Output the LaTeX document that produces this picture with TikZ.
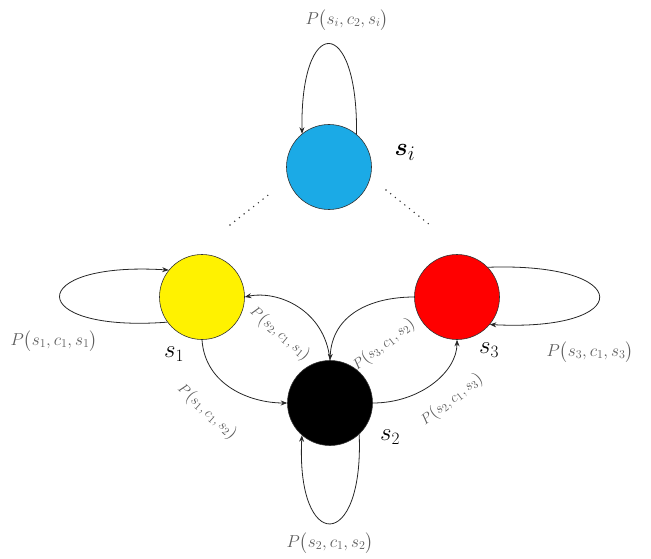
\documentclass[tikz,border=0pt]{standalone}
\usepackage{amsmath}
\usepackage{bm}
\usetikzlibrary{arrows.meta}
\definecolor{cblue}{RGB}{27,170,230}
\definecolor{lblgray}{RGB}{90,90,90}
\tikzset{
  state/.style={circle, draw=black!80, line width=0.6pt, minimum size=85pt, inner sep=0pt},
  conn/.style={draw=black!85, line width=0.8pt, -{Stealth[length=6.5pt,width=5pt]}},
  plbl/.style={text=lblgray, font=\fontsize{17}{20}\selectfont, inner sep=0pt},
  rlbl/.style={text=lblgray, font=\fontsize{15}{18}\selectfont, inner sep=0pt},
  slbl/.style={font=\fontsize{24}{28}\selectfont, inner sep=0pt},
  dotline/.style={line width=1.6pt, line cap=round, dash pattern=on 0pt off 6pt, black!80}
}
\begin{document}
\begin{tikzpicture}[x=1pt,y=-1pt]
\useasboundingbox (0,0) rectangle (651,559);
% states
\node[state, fill=cblue] (si) at (329,167) {};
\node[state, fill=yellow] (s1) at (202,297) {};
\node[state, fill=red] (s3) at (457,297) {};
\node[state, fill=black] (s2) at (330,403) {};
% loops
\draw[conn] (si.50) .. controls (358,14) and (300,14) .. (si.129);
\draw[conn] (s1.216) .. controls (24,333) and (24,261) .. (s1.141);
\draw[conn] (s3.44) .. controls (636,262) and (636,332) .. (s3.-40);
\draw[conn] (s2.-47) .. controls (364,553) and (296,553) .. (s2.229);
% transitions
\draw[conn] (s1.-90) .. controls (205,385) and (250,403) .. (s2.180);
\draw[conn] (s2.0) .. controls (420,403) and (457,372) .. (s3.-90);
\draw[conn] (s2.90) .. controls (325,310) and (278,290) .. (s1.0);
\draw[conn] (s3.180) .. controls (370,297) and (332,315) .. (s2.90);
% dots
\coordinate (dl1) at (230,225);
\coordinate (dl2) at (272,192);
\coordinate (dr1) at (386,190);
\coordinate (dr2) at (430,225);
\draw[dotline] (dl1) -- (dl2);
\draw[dotline] (dr1) -- (dr2);
% state labels
\node[font=\fontsize{32}{36}\selectfont, inner sep=0pt] (lsi) at (405,152) {$\bm{s}_{i}$};
\node[slbl] (ls1) at (174,354) {$s_1$};
\node[slbl] (ls2) at (390,437) {$s_2$};
\node[slbl] (ls3) at (489,350) {$s_3$};
% probability labels
\node[plbl] (pi) at (347,20) {$P\bigl(s_i,c_2,s_i\bigr)$};
\node[plbl] (p11) at (54,341) {$P\bigl(s_1,c_1,s_1\bigr)$};
\node[plbl] (p33) at (590,352) {$P\bigl(s_3,c_1,s_3\bigr)$};
\node[plbl] (p22) at (330,543) {$P\bigl(s_2,c_1,s_2\bigr)$};
\node[rlbl, rotate=-40] (p21) at (280,334) {$P\bigl(s_2,c_1,s_1\bigr)$};
\node[rlbl, rotate=38] (p32) at (384,345) {$P\bigl(s_3,c_1,s_2\bigr)$};
\node[rlbl, rotate=-42] (p12) at (207,412) {$P\bigl(s_1,c_1,s_2\bigr)$};
\node[rlbl, rotate=38] (p23) at (452,400) {$P\bigl(s_2,c_1,s_3\bigr)$};
\end{tikzpicture}
\end{document}
